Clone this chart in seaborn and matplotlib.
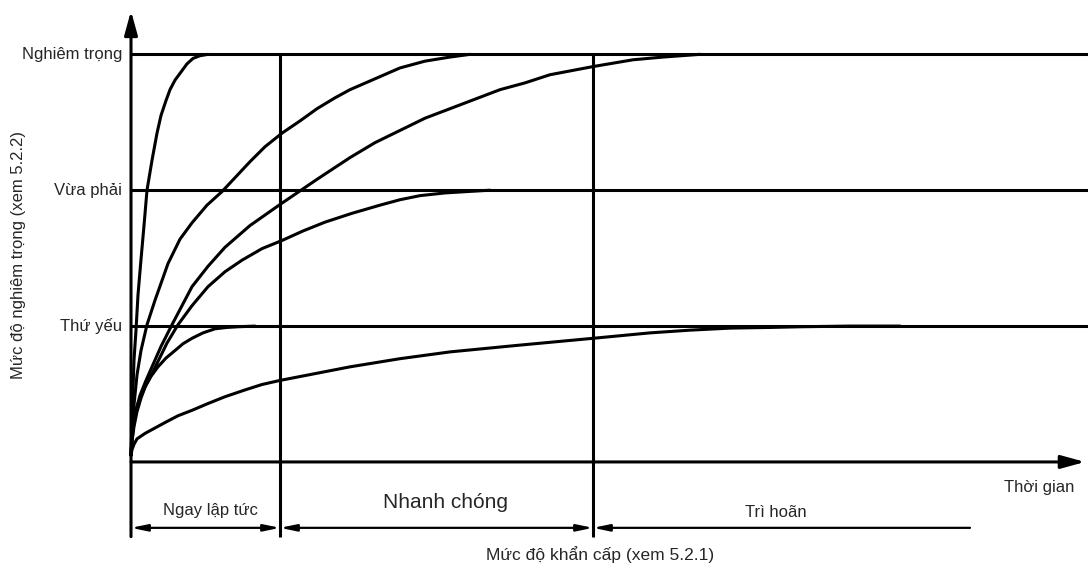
import numpy as np
import pandas as pd
import seaborn as sns
import matplotlib as mpl
mpl.use("Agg")
import matplotlib.pyplot as plt

# Configure seaborn style
sns.set_style("white")
plt.rcParams['font.family'] = ['Liberation Sans Narrow', 'Liberation Sans', 'DejaVu Sans']

# --------------------------------------------------------------------
#                               Data
# --------------------------------------------------------------------
# Severity levels (y) and their labels
level_values = [1, 2, 3]
level_labels = ['Thứ yếu', 'Vừa phải', 'Nghiêm trọng']

# Urgency band limits (time axis)
band_edges = [0.0, 1.49, 4.62, 8.39]
band_labels = ['Ngay lập tức', 'Nhanh chóng', 'Trì hoãn']

# Curves: time vs severity
c1_t = [0, 0.01, 0.02, 0.03, 0.05, 0.07, 0.10, 0.13, 0.16, 0.21, 0.26, 0.30, 0.35,
        0.39, 0.44, 0.50, 0.56, 0.62, 0.69, 0.77]
c1_s = [0.05, 0.31, 0.53, 0.75, 0.97, 1.23, 1.49, 1.74, 2.0, 2.22, 2.42, 2.55, 2.66,
        2.74, 2.81, 2.87, 2.93, 2.97, 2.99, 3.0]

c2_t = [0, 0.01, 0.03, 0.06, 0.10, 0.16, 0.24, 0.37, 0.49, 0.61, 0.76, 0.91, 1.05,
        1.19, 1.34, 1.51, 1.69, 1.86, 2.04, 2.19, 2.44, 2.69, 2.94, 3.19, 3.39]
c2_s = [0.05, 0.20, 0.42, 0.64, 0.82, 1.01, 1.19, 1.46, 1.64, 1.76, 1.89, 1.99, 2.10,
        2.21, 2.32, 2.42, 2.51, 2.60, 2.68, 2.74, 2.82, 2.90, 2.95, 2.98, 3.0]

c3_t = [0, 0.01, 0.03, 0.06, 0.09, 0.15, 0.21, 0.30, 0.41, 0.51, 0.61, 0.77, 0.94,
        1.19, 1.50, 1.86, 2.19, 2.44, 2.69, 2.94, 3.19, 3.44, 3.69, 3.94, 4.19, 4.62,
        5.02, 5.32, 5.69]
c3_s = [0.05, 0.16, 0.29, 0.41, 0.49, 0.60, 0.70, 0.85, 1.01, 1.15, 1.29, 1.44, 1.58,
        1.74, 1.90, 2.08, 2.24, 2.35, 2.44, 2.53, 2.60, 2.67, 2.74, 2.79, 2.85, 2.91,
        2.96, 2.98, 3.0]

c4_t = [0, 0.01, 0.03, 0.06, 0.10, 0.15, 0.21, 0.27, 0.36, 0.47, 0.61, 0.77, 0.94,
        1.11, 1.31, 1.51, 1.72, 1.94, 2.21, 2.49, 2.69, 2.89, 3.14, 3.36, 3.59]
c4_s = [0.05, 0.15, 0.26, 0.37, 0.47, 0.57, 0.65, 0.74, 0.875, 1.01, 1.15, 1.29, 1.40,
        1.485, 1.57, 1.63, 1.70, 1.765, 1.83, 1.89, 1.93, 1.96, 1.98, 1.99, 2.0]

c5_t = [0, 0.01, 0.02, 0.04, 0.08, 0.14, 0.20, 0.27, 0.35, 0.44, 0.52, 0.61, 0.72,
        0.84, 0.96, 1.07, 1.24]
c5_s = [0.05, 0.16, 0.26, 0.36, 0.45, 0.55, 0.63, 0.70, 0.765, 0.82, 0.87, 0.91, 0.95,
        0.98, 0.99, 0.995, 1.0]

c6_t = [0, 0.01, 0.03, 0.06, 0.10, 0.14, 0.24, 0.34, 0.47, 0.61, 0.77, 0.94, 1.14,
        1.31, 1.49, 1.84, 2.19, 2.69, 3.19, 3.89, 4.62, 5.19, 5.59, 5.99, 6.39, 6.69,
        7.19, 7.69]
c6_s = [0.05, 0.09, 0.13, 0.17, 0.19, 0.21, 0.25, 0.29, 0.34, 0.38, 0.43, 0.48, 0.53,
        0.57, 0.60, 0.65, 0.70, 0.76, 0.81, 0.86, 0.91, 0.95, 0.97, 0.985, 0.99, 0.995,
        1.0, 1.0]

# Long format frame
curves = [(c1_t, c1_s), (c2_t, c2_s), (c3_t, c3_s),
          (c4_t, c4_s), (c5_t, c5_s), (c6_t, c6_s)]
df = pd.concat([pd.DataFrame({'time': t, 'severity': s, 'curve': 'c%d' % i})
                for i, (t, s) in enumerate(curves)], ignore_index=True)

# --------------------------------------------------------------------
#                               Plot
# --------------------------------------------------------------------
lw = 2.2
x_min, x_max = -1.31, 9.57
y_min, y_max = -0.81, 3.40

fig = plt.figure(figsize=(10.88, 5.72), dpi=100)
ax = fig.add_axes([0, 0, 1, 1])
ax.set_xlim(x_min, x_max)
ax.set_ylim(y_min, y_max)
ax.axis('off')

# Curves
sns.lineplot(data=df, x='time', y='severity', units='curve', estimator=None,
             sort=False, color='black', lw=lw, ax=ax, legend=False,
             solid_joinstyle='round', solid_capstyle='round')

# Severity level lines
ax.hlines(level_values, 0, x_max, color='black', lw=lw)

# Urgency band boundaries
ax.vlines(band_edges[1:3], -0.55, level_values[-1], color='black', lw=lw)

# Axes with arrows
ax.annotate('', xy=(9.54, 0), xytext=(0, 0),
            arrowprops=dict(arrowstyle='-|>,head_length=0.8,head_width=0.22',
                            lw=lw, color='black', mutation_scale=18,
                            shrinkA=0, shrinkB=0))
ax.annotate('', xy=(0, 3.32), xytext=(0, -0.55),
            arrowprops=dict(arrowstyle='-|>,head_length=0.8,head_width=0.22',
                            lw=lw, color='black', mutation_scale=18,
                            shrinkA=0, shrinkB=0))

# Duration arrows
y_band = -0.485
for i in range(3):
    style = '<|-|>' if i < 2 else '<|-'
    ax.annotate('', xy=(band_edges[i + 1], y_band), xytext=(band_edges[i], y_band),
                arrowprops=dict(arrowstyle=style + ',head_length=1.2,head_width=0.25',
                                lw=1.6, color='black', mutation_scale=8,
                                shrinkA=0, shrinkB=0))

# Level labels
for v, lab in zip(level_values, level_labels):
    ax.text(-0.09, v, lab, ha='right', va='center', fontsize=12)

# Band labels
band_y = [-0.36, -0.30, -0.37]
band_x = [0.79, 3.15, 6.45]
for bx, by, lab in zip(band_x, band_y, band_labels):
    if lab == 'Nhanh chóng':
        ax.text(bx, by, lab, ha='center', va='center', fontsize=15,
                family=['Liberation Sans', 'DejaVu Sans'])
    else:
        ax.text(bx, by, lab, ha='center', va='center', fontsize=12)

# Axis titles
ax.text(9.08, -0.19, 'Thời gian', ha='center', va='center', fontsize=12)
ax.text(4.69, -0.68, 'Mức độ khẩn cấp (xem 5.2.1)', ha='center', va='center', fontsize=12.5)
ax.text(-1.13, 1.52, 'Mức độ nghiêm trọng (xem 5.2.2)', ha='center', va='center',
        rotation=90, fontsize=12)

plt.savefig('out.png', dpi=100)
